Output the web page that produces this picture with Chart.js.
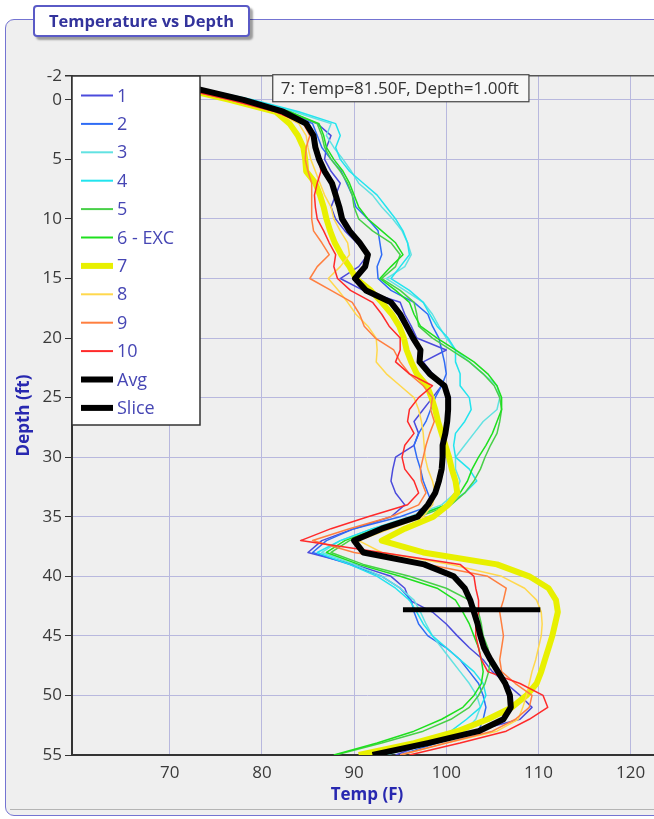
<!DOCTYPE html>
<html>
<head>
<meta charset="utf-8">
<title>Temperature vs Depth</title>
<script src="https://cdn.jsdelivr.net/npm/chart.js@4.4.1/dist/chart.umd.min.js"></script>
<style>
  html, body { margin: 0; padding: 0; background: #fff; overflow: hidden; width: 654px; height: 819px; }
  #panel { position: absolute; left: 5px; top: 19px; width: 720px; height: 797px; box-sizing: border-box;
           background: #efefef; border: 1.5px solid #7474d2; border-radius: 9px; }
  #panelFoot { position: absolute; left: 10px; top: 809px; width: 720px; height: 1px; background: #b4b4b4; }
  #chart { position: absolute; left: 0; top: 0; }
  #titleBox { position: absolute; left: 33px; top: 5px; width: 217px; height: 32px; box-sizing: border-box;
              background: #fff; border: 2px solid #5a5ac6; border-radius: 4px;
              box-shadow: 3px 3px 2px rgba(0,0,0,0.35);
              font: bold 16.5px "Open Sans", sans-serif; color: #33339c; text-align: center; line-height: 28px; }
</style>
</head>
<body>
<div id="panel"></div>
<div id="panelFoot"></div>
<canvas id="chart" width="700" height="819"></canvas>
<div id="titleBox">Temperature vs Depth</div>

<script>
// depth readings (ft), shared by every probe run
const depthFt = [-2, -1, 0, 1, 2, 3, 4, 5, 6, 7, 8, 9,
  10, 11, 12, 13, 14, 15, 16, 17, 18, 19,
  20, 21, 22, 23, 24, 25, 26, 27, 28, 29,
  30, 31, 32, 33, 34, 35, 36, 37, 38, 39,
  40, 41, 42, 43, 44, 45, 46, 47, 48, 49,
  50, 51, 52, 53, 54, 55];

// temperature (F) per run, one value per depth above
const run1 = [66, 71.5, 77.5, 82.5, 86, 87.5, 87, 86.8, 87.5, 88.5, 88, 87.5,
  88, 89, 90.3, 91.5, 90.5, 88.5, 91, 95, 95.5, 96.2,
  96.8, 100, 97.5, 98.5, 99.5, 98.5, 97.5, 96.5, 97, 96.5,
  94.5, 94.2, 94, 94.5, 95.5, 94, 90, 86.5, 85, 90,
  94, 95.5, 96, 98.5, 100, 101.2, 102.5, 104, 105, 106.5,
  108, 109.3, 108, 103, 98, 94.5];
const run2 = [66, 71.5, 77.5, 82.5, 85.5, 86, 86.5, 87.5, 88.6, 89.2, 89.8, 90.2,
  91.5, 92.6, 92.8, 93, 92.5, 92.6, 94, 96.5, 98, 98.5,
  99.2, 99.5, 99.8, 100, 99.5, 98.8, 98.3, 97.8, 97, 96.5,
  96.8, 97.2, 97.5, 98, 98.5, 95, 90, 87, 85.5, 89.5,
  93, 95, 96.2, 96.5, 97, 98, 100, 101.5, 102.5, 103.5,
  104, 104.3, 104, 103.5, 99, 95];
const run3 = [67, 73, 78.5, 83.5, 87.5, 87, 87.8, 88.8, 89.7, 90.5, 92, 93,
  94.2, 95.2, 95.8, 96.2, 95.5, 93.5, 95.5, 97.5, 98.5, 99.2,
  100, 101, 102.5, 104, 105.5, 105.8, 105.5, 104, 103, 102,
  101, 101, 101.5, 101, 99.5, 96, 92, 88.5, 86.5, 90,
  93, 95, 96.5, 97.2, 97.8, 98.5, 99.5, 100.5, 101.5, 102.5,
  103.3, 103.7, 103.2, 102, 98, 93.5];
const run4 = [67, 73, 79, 84, 88, 88.5, 88, 88.5, 89.5, 91, 92.5, 93.5,
  94.5, 95.3, 95.8, 96, 95, 94, 96, 97.5, 98.2, 99,
  100.2, 101, 101, 101.5, 101.5, 102.5, 102.7, 102, 101, 100.8,
  101, 102.5, 103.3, 102, 100, 96.5, 92, 88.5, 86, 89.5,
  92.5, 94.5, 96, 96.8, 97.5, 98.5, 100, 101.5, 103, 104,
  104.3, 103.7, 102.2, 100.5, 97, 93];
const run5 = [66.5, 72.5, 78, 83, 86, 86.5, 86.8, 87.5, 88.5, 89.3, 89.8, 90,
  90.5, 92, 94, 95, 94.5, 93, 95, 96.5, 96.8, 97,
  98.5, 100.5, 102.5, 104, 105.2, 105.8, 106, 105.8, 105.5, 104.8,
  104.2, 103.7, 103, 102, 100.5, 97, 93, 89.5, 87.5, 91,
  96, 100, 102.5, 103.5, 103.8, 104, 104.5, 104.8, 104.6, 104.2,
  103.5, 102.5, 100.5, 97.5, 93, 88];
const run6 = [66.5, 72.5, 78, 83, 86.2, 86.7, 87, 87.8, 88.8, 89.5, 90, 90.5,
  91.5, 93, 94.5, 95.3, 94, 92.8, 94.5, 96, 96.5, 97.2,
  99, 101, 103, 104.5, 105.5, 106, 106, 105.5, 105, 104.3,
  103.5, 102.8, 102.3, 101.5, 100, 96.5, 92.5, 89, 87, 90.5,
  95, 99, 101, 101.8, 102.5, 103, 103.5, 103.8, 104, 103.8,
  103, 101.8, 99.5, 96.5, 92.5, 87.8];
const run7 = [66, 71, 76.5, 81.5, 83, 83.9, 84.5, 84.7, 84.8, 85.8, 86.3, 86.7,
  87, 87.4, 87.9, 88.6, 89.5, 90.2, 91.8, 93, 94.1, 94.9,
  95.4, 95.7, 96.2, 96.8, 97.9, 98.4, 98.8, 99.1, 99.5, 99.9,
  100.3, 100.6, 101, 101.2, 100.2, 98.6, 95.5, 93, 97.5, 105.5,
  109, 111.1, 111.9, 112.1, 111.8, 111.5, 111.1, 110.7, 110.3, 109.8,
  108.7, 107.1, 104.5, 101.2, 96.5, 90.5];
const run8 = [66, 71, 76.5, 81.5, 84, 84.8, 85, 85.3, 85.8, 86.3, 86.8, 87.5,
  87.8, 88.5, 89.3, 89.5, 88.5, 87.2, 88.3, 89.3, 90.2, 91.5,
  92.4, 92.5, 92.4, 93.5, 95, 96.5, 97, 97.3, 97.5, 97.6,
  97.7, 98, 98.5, 98.8, 98.5, 97.5, 94, 90.5, 93, 100.5,
  106, 108.5, 109.8, 110.3, 110.4, 110.3, 110, 109.7, 109.3, 109,
  108.7, 108.3, 107.8, 105.5, 100, 95];
const run9 = [66, 71, 76.5, 81.5, 84.5, 85.2, 84.8, 84.7, 85, 85.4, 85.4, 85.4,
  85.4, 85.6, 86.5, 87.3, 86, 85.2, 87.5, 89.8, 90.6, 91.1,
  92.3, 94.3, 95, 96, 97.5, 98.5, 98.3, 98.7, 98.2, 97.8,
  97.5, 97.2, 97.3, 97.8, 97, 94, 89.5, 85.5, 90, 98,
  104.5, 106.5, 106.2, 105.8, 106, 106.2, 106, 105.8, 106, 107.5,
  109.3, 109, 107.5, 105, 100, 95];
const run10 = [66, 71, 76.5, 81.5, 84.5, 85.5, 85.8, 86.2, 86.4, 86, 85.7, 85.8,
  86, 86.7, 87.3, 88, 87.8, 88.2, 89.6, 92, 93, 93.8,
  95, 95, 94.5, 96, 98.5, 97, 96, 95.8, 96.5, 95.5,
  95.2, 95.5, 96.5, 97, 95.8, 91.5, 87.5, 84.2, 93, 101.5,
  103, 103.2, 103.5, 103.5, 103.2, 103.2, 103.5, 103.8, 104.5, 108,
  110.5, 111, 109, 106.5, 101.5, 96];
const avgTemp = [67, 72.5, 78, 82.3, 84.8, 85.6, 85.8, 86.2, 86.8, 87.6, 88, 88.4,
  88.7, 89.5, 90.6, 91.5, 91.2, 90.1, 91.3, 94, 95, 95.7,
  96.4, 97.2, 97.1, 98.2, 99.8, 100.2, 100.2, 100.1, 99.9, 99.6,
  99.6, 99.5, 99.2, 98.8, 98, 96.9, 93, 90, 91, 97.6,
  100.8, 102, 102.6, 103, 103.4, 103.7, 104.1, 104.8, 105.6, 106.4,
  106.9, 107, 106.2, 103.5, 98, 92];

// horizontal slice marker
const sliceTemp = [95.3, 110.2];
const sliceDepth = [42.8, 42.8];

const tempTicks = [70, 80, 90, 100, 110, 120];
const depthTicks = [-2, 0, 5, 10, 15, 20, 25, 30, 35, 40, 45, 50, 55];

// the run shown in the readout box
const pickedRun = '7';
const pickedDepth = 1;

const runs = [
  { label: '1', temps: run1, color: '#4b4bdc', width: 1.5 },
  { label: '2', temps: run2, color: '#2f6cf5', width: 1.5 },
  { label: '3', temps: run3, color: '#62e2e2', width: 1.5 },
  { label: '4', temps: run4, color: '#22e4ee', width: 1.5 },
  { label: '5', temps: run5, color: '#48d048', width: 1.5 },
  { label: '6 - EXC', temps: run6, color: '#1ee01e', width: 1.5 },
  { label: '7', temps: run7, color: '#e8f000', width: 6 },
  { label: '8', temps: run8, color: '#ffd84d', width: 1.5 },
  { label: '9', temps: run9, color: '#ff7f3f', width: 1.5 },
  { label: '10', temps: run10, color: '#ff2a2a', width: 1.5 },
  { label: 'Avg', temps: avgTemp, color: '#000000', width: 6 }
];

function toPoints(temps, depths) {
  return temps.map((t, i) => ({ x: t, y: depths[i] }));
}

const datasets = runs.map((r, i) => ({
  label: r.label,
  data: toPoints(r.temps, depthFt),
  borderColor: r.color,
  borderWidth: r.width,
  order: 30 - i
}));
datasets.push({
  label: 'Slice',
  data: toPoints(sliceTemp, sliceDepth),
  borderColor: '#000000',
  borderWidth: 5,
  order: 0
});
datasets.forEach(ds => {
  ds.showLine = true;
  ds.pointRadius = 0;
  ds.fill = false;
  ds.tension = 0;
  ds.borderJoinStyle = 'round';
});

const tickFont = { family: '"Open Sans", sans-serif', size: 17 };
const titleFont = { family: '"Open Sans", sans-serif', size: 17, weight: 'bold' };

// white legend box in the top-left corner of the plot
const legendBox = {
  id: 'legendBox',
  afterDatasetsDraw(chart) {
    const { ctx, chartArea } = chart;
    const x0 = chartArea.left, y0 = chartArea.top;
    ctx.save();
    ctx.fillStyle = '#ffffff';
    ctx.fillRect(x0, y0, 128, 349);
    ctx.strokeStyle = '#333';
    ctx.lineWidth = 1.5;
    ctx.strokeRect(x0, y0, 128, 349);
    ctx.font = '18px "Open Sans", sans-serif';
    ctx.textBaseline = 'middle';
    chart.data.datasets.forEach((ds, i) => {
      const y = y0 + 19.5 + i * 28.4;
      ctx.strokeStyle = ds.borderColor;
      ctx.lineWidth = ds.borderWidth > 2 ? 6 : 2;
      ctx.beginPath();
      ctx.moveTo(x0 + 9, y);
      ctx.lineTo(x0 + 41, y);
      ctx.stroke();
      ctx.fillStyle = '#4646b4';
      ctx.fillText(ds.label, x0 + 45, y + 1);
    });
    ctx.restore();
  }
};

// readout box above the picked point
const readout = {
  id: 'readout',
  afterDatasetsDraw(chart) {
    const ds = chart.data.datasets.find(d => d.label === pickedRun);
    const pt = ds.data.find(p => p.y === pickedDepth);
    const px = chart.scales.x.getPixelForValue(pt.x);
    const py = chart.scales.y.getPixelForValue(pt.y);
    const text = pickedRun + ': Temp=' + pt.x.toFixed(2) + 'F, Depth=' + pt.y.toFixed(2) + 'ft';
    const { ctx } = chart;
    ctx.save();
    ctx.font = '17px "Open Sans", sans-serif';
    const w = ctx.measureText(text).width + 18;
    const left = px - 3, top = py - 37;
    ctx.fillStyle = '#f7f7f7';
    ctx.fillRect(left, top, w, 27);
    ctx.strokeStyle = '#444';
    ctx.lineWidth = 1.2;
    ctx.strokeRect(left, top, w, 27);
    ctx.fillStyle = '#333';
    ctx.textBaseline = 'middle';
    ctx.fillText(text, left + 8, top + 14);
    ctx.restore();
  }
};

new Chart(document.getElementById('chart'), {
  type: 'scatter',
  data: { datasets: datasets },
  options: {
    responsive: false,
    animation: false,
    layout: { padding: { left: 0, top: 76, right: 38, bottom: 0 } },
    plugins: {
      legend: { display: false },
      tooltip: { enabled: false }
    },
    scales: {
      x: {
        type: 'linear',
        min: 59.4,
        max: 123.4,
        afterBuildTicks: s => { s.ticks = tempTicks.map(v => ({ value: v })); },
        afterFit: s => { s.height = 64; },
        ticks: { font: tickFont, color: '#3a3a3a', padding: 8 },
        grid: { color: '#b8b8de', lineWidth: 1, drawTicks: false },
        border: { color: '#333', width: 2 },
        title: { display: true, text: 'Temp (F)', font: titleFont, color: '#2828b0',
                 padding: { top: 0, bottom: 14 } }
      },
      y: {
        type: 'linear',
        reverse: true,
        min: -2,
        max: 55,
        afterBuildTicks: s => { s.ticks = depthTicks.map(v => ({ value: v })); },
        afterFit: s => { s.width = 72; },
        ticks: { font: tickFont, color: '#3a3a3a', padding: 3 },
        grid: {
          color: c => (c.tick && c.tick.value === -2) ? '#555' : '#b8b8de',
          lineWidth: c => (c.tick && c.tick.value === -2) ? 1.5 : 1,
          tickColor: '#333',
          tickLength: 7
        },
        border: { color: '#333', width: 2 },
        title: { display: true, text: 'Depth (ft)', font: titleFont, color: '#2828b0',
                 padding: { top: 14, bottom: 0 } }
      }
    }
  },
  plugins: [legendBox, readout]
});
</script>
</body>
</html>
